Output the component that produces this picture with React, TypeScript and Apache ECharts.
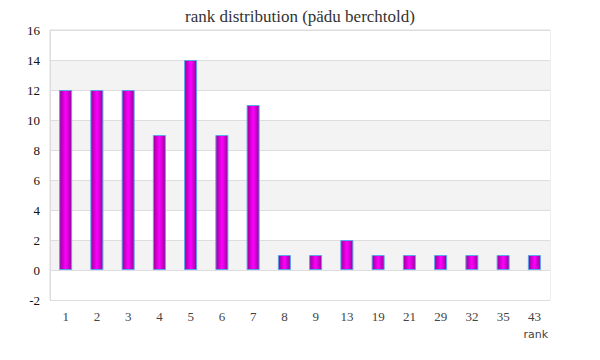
import React, { useEffect, useRef } from "react";
import * as echarts from "echarts";

const categories = ["1", "2", "3", "4", "5", "6", "7", "8", "9", "13", "19", "21", "29", "32", "35", "43"];
const counts = [12, 12, 12, 9, 14, 9, 11, 1, 1, 2, 1, 1, 1, 1, 1, 1];
const titleText = "rank distribution (pädu berchtold)";
const xName = "rank";

export default function App() {
  const ref = useRef<HTMLDivElement>(null);
  useEffect(() => {
    if (!ref.current) return;
    const chart = echarts.init(ref.current, null, { renderer: "svg" });
    const serif = "Liberation Serif, DejaVu Serif, serif";
    chart.setOption({
      animation: false,
      title: {
        text: titleText,
        left: "center",
        top: 0,
        padding: 0,
        textStyle: { fontFamily: serif, fontSize: 17, fontWeight: "normal", color: "#333" },
      },
      graphic: [
        {
          type: "text",
          right: 44,
          top: 321,
          style: {
            text: xName,
            fontFamily: "DejaVu Sans, Verdana, sans-serif",
            fontSize: 11,
            fill: "#444",
          },
        },
      ],
      grid: { left: 42, right: 42, top: 22, bottom: 52, show: true, borderColor: "#ddd", borderWidth: 1 },
      xAxis: {
        type: "category",
        data: categories,
        axisLine: { show: false },
        axisTick: { show: false },
        axisLabel: { fontFamily: serif, fontSize: 13, color: "#444", margin: 10 },
      },
      yAxis: {
        type: "value",
        min: -2,
        max: 16,
        interval: 2,
        axisLine: { show: true, lineStyle: { color: "#ddd" } },
        axisTick: { show: false },
        axisLabel: { fontFamily: serif, fontSize: 13, color: "#111", margin: 10 },
        splitLine: { show: true, lineStyle: { color: "#ddd" } },
        splitArea: { show: true, areaStyle: { color: ["#ffffff", "#f3f3f3"] } },
      },
      series: [
        {
          type: "bar",
          data: counts,
          barWidth: 13,
          itemStyle: {
            color: new echarts.graphic.LinearGradient(0, 0, 1, 0, [
              { offset: 0, color: "#9a009a" },
              { offset: 0.5, color: "#ff00ff" },
              { offset: 1, color: "#9a009a" },
            ]),
            borderColor: "#5aa4e8",
            borderWidth: 1,
          },
        },
      ],
    });
    return () => chart.dispose();
  }, []);
  return <div ref={ref} style={{ width: 584, height: 344 }} />;
}
